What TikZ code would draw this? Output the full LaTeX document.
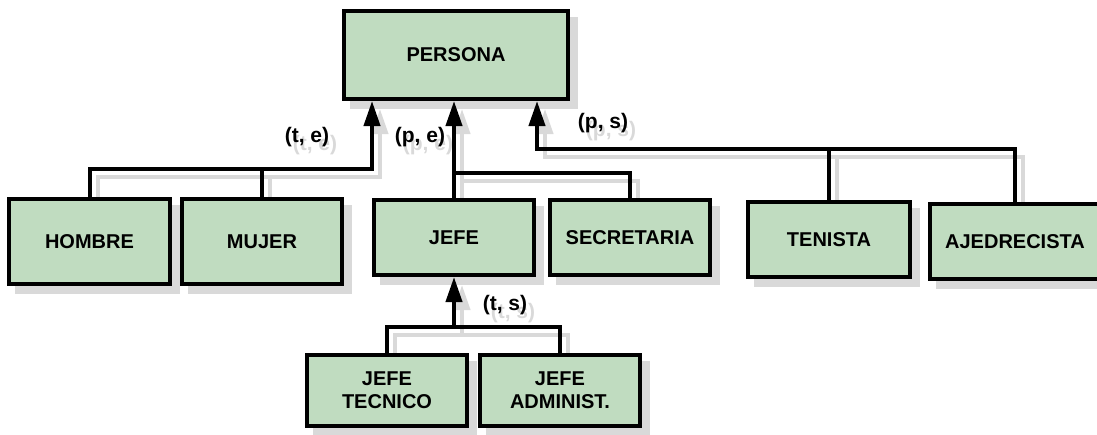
\documentclass[tikz,border=0pt]{standalone}
\usepackage{fontspec}
\setmainfont{Liberation Sans}
\usetikzlibrary{arrows.meta}

\definecolor{boxfill}{RGB}{192,220,192}
\definecolor{shadowgray}{RGB}{217,217,217}

\pgfdeclarelayer{shadow}
\pgfdeclarelayer{wires}
\pgfsetlayers{shadow,wires,main}

\tikzset{
  entity/.style={draw=black, fill=boxfill, line width=4pt, inner sep=0pt,
    align=center, font=\fontsize{20}{23}\selectfont\bfseries},
  wire/.style={line width=4pt, line join=miter},
  isa/.style={wire, -{Triangle[length=25pt,width=16pt]}},
  tag/.style={inner sep=0pt, font=\fontsize{21}{24}\selectfont\bfseries},
}

% all generalisation links, drawn in the colour given
\newcommand\isalinks[1]{%
  % (t, e): HOMBRE / MUJER
  \draw[isa,color=#1] (hombre.north) |- (teBar) -- (teBar |- persona.south);
  \draw[wire,color=#1] (mujer.north) -- (mujer.north |- teBar);
  % (p, e): JEFE / SECRETARIA
  \draw[isa,color=#1] (jefe.north) -- (jefe.north |- persona.south);
  \draw[wire,color=#1] (secretaria.north) |- (peBar);
  % (p, s): TENISTA / AJEDRECISTA
  \draw[isa,color=#1] (ajedrecista.north) |- (psBar) -- (psBar |- persona.south);
  \draw[wire,color=#1] (tenista.north) -- (tenista.north |- psBar);
  % (t, s): JEFE TECNICO / JEFE ADMINIST.
  \draw[wire,color=#1] (jtec.north) |- (tsBar) -| (jadm.north);
  \draw[isa,color=#1] (tsBar) -- (jefe.south);
}

\newcommand\isatags[1]{%
  \node[tag,text=#1] at (lte) {(t, e)};
  \node[tag,text=#1] at (lpe) {(p, e)};
  \node[tag,text=#1] at (lps) {(p, s)};
  \node[tag,text=#1] at (lts) {(t, s)};
}

\begin{document}
\begin{tikzpicture}[x=1pt, y=-1pt]
  \useasboundingbox (0,0) rectangle (1097,434);

  % entities
  \node[entity, minimum width=224pt, minimum height=88pt] (persona) at (456,55) {PERSONA};
  \node[entity, minimum width=161pt, minimum height=85pt] (hombre) at (89.5,241.5) {HOMBRE};
  \node[entity, minimum width=160pt, minimum height=85pt] (mujer) at (262,241.5) {MUJER};
  \node[entity, minimum width=160pt, minimum height=75pt] (jefe) at (454,237.5) {JEFE};
  \node[entity, minimum width=160pt, minimum height=75pt] (secretaria) at (630,237.5) {SECRETARIA};
  \node[entity, minimum width=162pt, minimum height=75pt] (tenista) at (829,239.5) {TENISTA};
  \node[entity, minimum width=170pt, minimum height=75pt] (ajedrecista) at (1015,241.5) {AJEDRECISTA};
  \node[entity, minimum width=160pt, minimum height=71pt] (jtec) at (387,390.5) {JEFE\\TECNICO};
  \node[entity, minimum width=160pt, minimum height=71pt] (jadm) at (560,390.5) {JEFE\\ADMINIST.};

  % bends of the links
  \coordinate (teBar) at (372,169);
  \coordinate (peBar) at (454,173);
  \coordinate (psBar) at (537,149);
  \coordinate (tsBar) at (454,327);

  % constraint labels
  \coordinate (lte) at (307,137);
  \coordinate (lpe) at (420,137);
  \coordinate (lps) at (603,123);
  \coordinate (lts) at (505,305);

  % drop shadows
  \begin{pgfonlayer}{shadow}
    \begin{scope}[transform canvas={shift={(8,8)}}]
      \foreach \n in {persona,hombre,mujer,jefe,secretaria,tenista,ajedrecista,jtec,jadm}
        \fill[shadowgray] (\n.south west) rectangle (\n.north east);
      \isalinks{shadowgray}
      \isatags{shadowgray}
    \end{scope}
  \end{pgfonlayer}

  \begin{pgfonlayer}{wires}
    \isalinks{black}
  \end{pgfonlayer}
  \isatags{black}
\end{tikzpicture}
\end{document}
